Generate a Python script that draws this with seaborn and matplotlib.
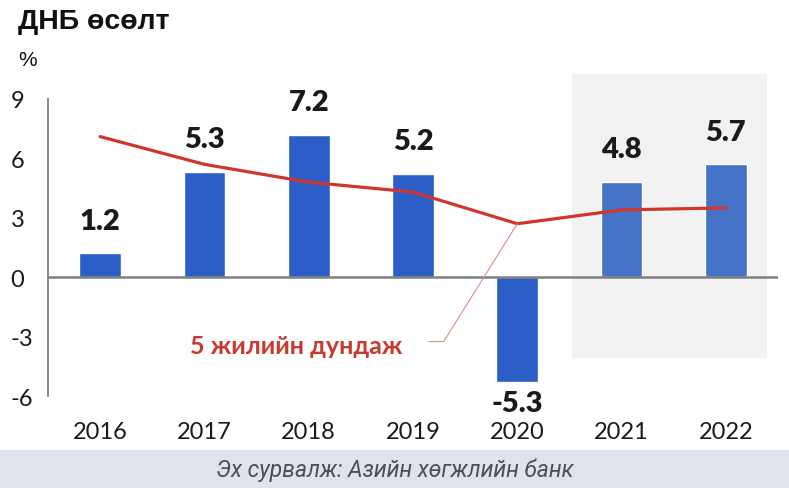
import matplotlib
matplotlib.use("Agg")
import matplotlib.pyplot as plt
import seaborn as sns
import numpy as np
import pandas as pd
from matplotlib.patches import Rectangle

years = ["2016", "2017", "2018", "2019", "2020", "2021", "2022"]
growth = [1.2, 5.3, 7.2, 5.2, -5.3, 4.8, 5.7]
avg5 = [7.1, 5.7, 4.8, 4.3, 2.7, 3.4, 3.5]
yticks = [-6, -3, 0, 3, 6, 9]
bar_colors = ["#2b5fc7", "#2b5fc7", "#2b5fc7", "#2b5fc7", "#2b5fc7", "#4573c5", "#4573c5"]

title = "ДНБ өсөлт"
unit = "%"
avg_label = "5 жилийн дундаж"
source = "Эх сурвалж: Азийн хөгжлийн банк"

sns.set_theme(style="white")
plt.rcParams["font.family"] = ["Lato", "DejaVu Sans"]

fig = plt.figure(figsize=(7.89, 4.89), dpi=100)
fig.patch.set_facecolor("white")
ax = fig.add_axes([48 / 789, 1 - 397 / 489, (778 - 48) / 789, (397 - 100) / 489])
ax.set_facecolor("none")

df = pd.DataFrame({"year": years, "growth": growth})
sns.barplot(data=df, x="year", y="growth", hue="year", palette=bar_colors,
            width=0.40, legend=False, ax=ax, zorder=2, saturation=1)

sns.lineplot(x=np.arange(len(years)), y=avg5, color="#d1362c", linewidth=2.3,
             ax=ax, zorder=3)

ax.set_xlim(-0.5, 6.5)
ax.set_ylim(-6, 9)

# shaded forecast region
ax.add_patch(Rectangle((4.525, -4.09), 6.395 - 4.525, 10.25 + 4.09,
                       facecolor="#f2f2f2", edgecolor="none", zorder=0, clip_on=False))

ax.axhline(0, color="#7f7f7f", linewidth=1.8, zorder=4)

for i, v in enumerate(growth):
    if v >= 0:
        ax.text(i, v + 1.0, f"{v:.1f}", ha="center", va="bottom", fontsize=21,
                fontweight="heavy", color="#1a1a1a", clip_on=False)
    else:
        ax.text(i, v - 0.4, f"{v:.1f}", ha="center", va="top", fontsize=21,
                fontweight="heavy", color="#1a1a1a", clip_on=False)

for s in ["top", "right", "bottom"]:
    ax.spines[s].set_visible(False)
ax.spines["left"].set_color("#7f7f7f")
ax.spines["left"].set_linewidth(1.3)
ax.set_yticks(yticks)
ax.set_yticklabels([str(t) for t in yticks])
ax.tick_params(axis="y", direction="in", length=5, width=1.3, color="#7f7f7f",
               labelsize=17, labelcolor="#1a1a1a", pad=27)
for lab in ax.get_yticklabels():
    lab.set_horizontalalignment("left")
ax.tick_params(axis="x", length=0, labelsize=17, labelcolor="#1a1a1a", pad=18)
ax.set_xlabel("")
ax.set_ylabel("")

# average annotation with leader line
ax.text(2.895, -3.45, avg_label, ha="right", va="center", fontsize=18,
        fontweight="bold", color="#c8392f", zorder=5)
ax.annotate("", xy=(4, avg5[4]), xytext=(3.155, -3.25),
            arrowprops=dict(arrowstyle="-", color="#e08a85", linewidth=0.8,
                            connectionstyle="angle,angleA=0,angleB=58,rad=0",
                            shrinkA=0, shrinkB=0),
            zorder=5)

fig.text(18 / 789, 1 - 22 / 489, title, fontsize=20.5, fontweight="bold",
         family=["Liberation Sans", "DejaVu Sans"], color="#111111", va="center", ha="left")
fig.text(18 / 789, 1 - 60 / 489, unit, fontsize=15,
         family=["Liberation Sans", "DejaVu Sans"], color="#111111", va="center", ha="left")

# footer band
fig.patches.append(Rectangle((0, 0), 1, 38 / 489, transform=fig.transFigure,
                             facecolor="#dfe3ea", edgecolor="none", zorder=0))
fig.text(0.5, 19 / 489, source, fontsize=16.5, style="italic",
         family=["Roboto", "DejaVu Sans"], color="#4a4f5b", ha="center", va="center")

fig.savefig("out.png", dpi=100, facecolor="white")
